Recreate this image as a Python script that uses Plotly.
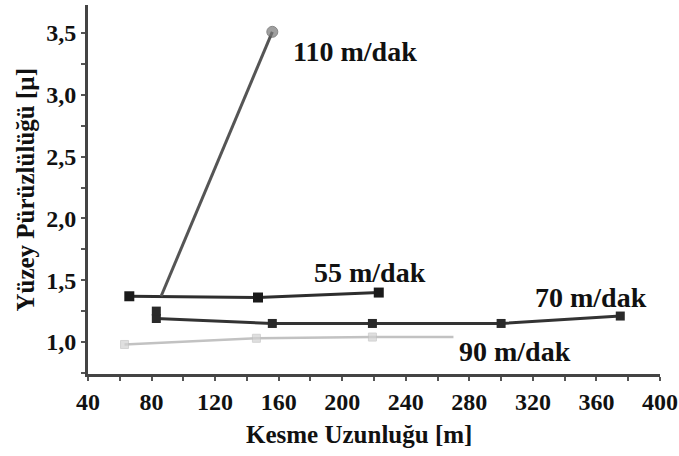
import plotly.graph_objects as go

# Data
x_55 = [66, 147, 223]
y_55 = [1.37, 1.36, 1.40]

x_70 = [83, 156, 219, 300, 375]
y_70 = [1.19, 1.15, 1.15, 1.15, 1.21]

x_90 = [63, 146, 219, 270]
y_90 = [0.98, 1.03, 1.04, 1.04]

x_110 = [86, 156]
y_110 = [1.37, 3.51]

x_110_start = [83]
y_110_start = [1.25]

x_tickvals = [40, 80, 120, 160, 200, 240, 280, 320, 360, 400]
y_tickvals = [1.0, 1.5, 2.0, 2.5, 3.0, 3.5]
y_ticktext = ["1,0", "1,5", "2,0", "2,5", "3,0", "3,5"]

labels = ["110 m/dak", "55 m/dak", "70 m/dak", "90 m/dak"]
label_x = [168, 181, 320, 272]
label_y = [3.35, 1.56, 1.36, 0.92]

FONT = "Liberation Serif"

fig = go.Figure()
fig.add_trace(go.Scatter(x=x_90, y=y_90, mode="lines+markers",
                         line=dict(color="#c2c2c2", width=2.5),
                         marker=dict(symbol="square", size=[8, 8, 8, 0], color="#d2d2d2")))
fig.add_trace(go.Scatter(x=x_70, y=y_70, mode="lines+markers",
                         line=dict(color="#333333", width=3),
                         marker=dict(symbol="square", size=9, color="#2a2a2a")))
fig.add_trace(go.Scatter(x=x_55, y=y_55, mode="lines+markers",
                         line=dict(color="#2e2e2e", width=3),
                         marker=dict(symbol="square", size=10, color="#1a1a1a")))
fig.add_trace(go.Scatter(x=x_110, y=y_110, mode="lines+markers",
                         line=dict(color="#555555", width=3),
                         marker=dict(symbol="circle", size=[0, 11], color="#777777")))
fig.add_trace(go.Scatter(x=x_110_start, y=y_110_start, mode="markers",
                         marker=dict(symbol="square", size=9, color="#2a2a2a")))

for t, xx, yy in zip(labels, label_x, label_y):
    fig.add_annotation(x=xx, y=yy, text=t, showarrow=False, xanchor="left", yanchor="middle",
                       font=dict(family=FONT, size=28, color="#111111", weight="bold"))

# axis titles
fig.add_annotation(xref="paper", yref="paper", x=0.474, y=-0.165, text="Kesme Uzunluğu [m]",
                   showarrow=False, xanchor="center", yanchor="middle",
                   font=dict(family=FONT, size=25, color="#111111", weight="bold"))
fig.add_annotation(xref="paper", yref="paper", x=-0.110, y=0.50, text="Yüzey Pürüzlülüğü [µ]",
                   showarrow=False, xanchor="center", yanchor="middle", textangle=-90,
                   font=dict(family=FONT, size=25, color="#111111", weight="bold"))

fig.update_layout(
    width=679, height=456,
    margin=dict(l=88, r=19, t=5, b=82),
    paper_bgcolor="white", plot_bgcolor="white",
    showlegend=False,
    font=dict(family=FONT, color="#111111"),
)
fig.update_xaxes(
    range=[40, 400], tickvals=x_tickvals, showgrid=False, zeroline=False, automargin=False,
    showline=True, linecolor="#444444", linewidth=3,
    ticks="outside", ticklen=4, tickwidth=2, tickcolor="#555555",
    minor=dict(dtick=20, tick0=40, ticks="outside", ticklen=4, tickwidth=2, tickcolor="#555555"),
    tickfont=dict(family=FONT, size=24, color="#111111", weight="bold"),
)
fig.update_yaxes(
    range=[0.741, 3.727], tickvals=y_tickvals, ticktext=y_ticktext, showgrid=False, zeroline=False,
    automargin=False,
    showline=True, linecolor="#444444", linewidth=3,
    ticks="outside", ticklen=4, tickwidth=2, tickcolor="#555555",
    minor=dict(dtick=0.25, tick0=0, ticks="outside", ticklen=4, tickwidth=2, tickcolor="#555555"),
    tickfont=dict(family=FONT, size=24, color="#111111", weight="bold"),
)

fig.write_html("out.html", config={"displayModeBar": False},
               post_script="document.body.style.margin='0';")
